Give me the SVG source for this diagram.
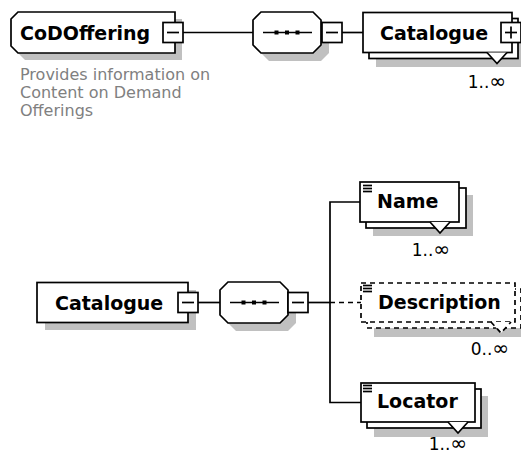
<svg xmlns="http://www.w3.org/2000/svg" width="521" height="456" viewBox="0 0 521 456">
<style>
.bx{fill:#fff;stroke:#000;stroke-width:1.7}
.ds{stroke-dasharray:5,4}
.sh{fill:#c0c0c0;stroke:none}
.ln{fill:none;stroke:#000;stroke-width:1.7}
.lbl{font-family:"DejaVu Sans","Liberation Sans",sans-serif;font-weight:bold;font-size:19px;fill:#000}
.doc{font-family:"DejaVu Sans","Liberation Sans",sans-serif;font-size:16px;fill:#808080}
.mult{font-family:"DejaVu Sans","Liberation Sans",sans-serif;font-size:17px;fill:#000;text-anchor:end}
.inf{font-size:20px}
.dot{fill:#000}
.tri{fill:#fff;stroke:#000;stroke-width:1.7}
</style>
<defs>
<g id="minus"><rect class="bx" x="0" y="0" width="20" height="20"/><line class="ln" x1="4" y1="10" x2="16" y2="10"/></g>
<g id="seqin"><line class="ln" x1="-24" y1="0" x2="25" y2="0"/><rect class="dot" x="-12.5" y="-2" width="4" height="4"/><rect class="dot" x="-2" y="-2" width="4" height="4"/><rect class="dot" x="8.5" y="-2" width="4" height="4"/></g>
<g id="icon"><line class="ln" x1="0" y1="0" x2="9" y2="0"/><line class="ln" x1="0" y1="3" x2="9" y2="3"/><line class="ln" x1="0" y1="6" x2="9" y2="6"/></g>
</defs>

<g id="connectors">
<line class="ln" x1="182" y1="32.5" x2="253" y2="32.5"/>
<line class="ln" x1="342" y1="32.5" x2="363" y2="32.5"/>
<line class="ln" x1="198" y1="302.5" x2="220" y2="302.5"/>
<line class="ln" x1="308" y1="302.5" x2="330" y2="302.5"/>
<polyline class="ln" points="360,202 330,202 330,402.5 361,402.5"/>
<line class="ln ds" x1="330" y1="302.5" x2="361" y2="302.5"/>
</g>

<g id="CoDOffering">
<polygon class="sh" points="18,26 25,19 182,19 182,60 25,60 18,53"/>
<polygon class="bx" points="11,19 18,12 175,12 175,53 18,53 11,46"/>
<use href="#minus" x="163" y="22.5"/>
<text class="lbl" x="20" y="40">CoDOffering</text>
<text class="doc" x="20" y="80">Provides information on</text>
<text class="doc" x="20" y="98">Content on Demand</text>
<text class="doc" x="20" y="116">Offerings</text>
</g>

<g id="sequence1">
<polygon class="sh" points="261,28 269,20 321,20 329,28 329,53 321,61 269,61 261,53"/>
<polygon class="bx" points="253,20 261,12 313,12 321,20 321,45 313,53 261,53 253,45"/>
<use href="#seqin" x="287" y="32.5"/>
<use href="#minus" x="322" y="22.5"/>
</g>

<g id="Catalogue1">
<rect class="sh" x="376" y="26" width="149" height="41"/>
<rect class="bx" x="369" y="18.5" width="149" height="40"/>
<rect class="bx" x="363" y="12.5" width="149" height="40"/>
<path class="tri" d="M487 52.5 L497 63.5 L507 52.5"/>
<rect class="bx" x="501" y="22.5" width="20" height="20"/>
<line class="ln" x1="505" y1="32.5" x2="517" y2="32.5"/>
<line class="ln" x1="511" y1="26.5" x2="511" y2="38.5"/>
<text class="lbl" x="380" y="39.5">Catalogue</text>
<text class="mult" x="506" y="88">1..<tspan class="inf">∞</tspan></text>
</g>

<g id="Catalogue2">
<rect class="sh" x="45" y="290" width="151" height="40"/>
<rect class="bx" x="37" y="282.5" width="151" height="40"/>
<use href="#minus" x="178" y="292.5"/>
<text class="lbl" x="55" y="309.5">Catalogue</text>
</g>

<g id="sequence2">
<polygon class="sh" points="228,298 236,290 288,290 296,298 296,323 288,331 236,331 228,323"/>
<polygon class="bx" points="220,290 228,282 280,282 288,290 288,315 280,323 228,323 220,315"/>
<use href="#seqin" x="254" y="302.5"/>
<use href="#minus" x="288" y="292.5"/>
</g>

<g id="Name">
<rect class="sh" x="373" y="195" width="100" height="41"/>
<rect class="bx" x="366" y="188" width="100" height="40"/>
<rect class="bx" x="360" y="182" width="99" height="40"/>
<path class="tri" d="M430 222 L440 233 L450 222"/>
<use href="#icon" x="363" y="185.5"/>
<text class="lbl" x="377" y="208">Name</text>
<text class="mult" x="450" y="256">1..<tspan class="inf">∞</tspan></text>
</g>

<g id="Description">
<rect class="sh" x="374" y="296" width="154" height="41"/>
<rect class="bx ds" x="367" y="289" width="154" height="39"/>
<rect class="bx ds" x="361" y="283" width="154" height="39"/>
<path class="tri ds" d="M491 322 L501 333 L511 322"/>
<use href="#icon" x="363" y="285.5"/>
<text class="lbl" x="378" y="309">Description</text>
<text class="mult" x="509" y="355">0..<tspan class="inf">∞</tspan></text>
</g>

<g id="Locator">
<rect class="sh" x="374" y="396" width="114" height="41"/>
<rect class="bx" x="367" y="389" width="114" height="39"/>
<rect class="bx" x="361" y="383" width="114" height="39"/>
<path class="tri" d="M448 422 L458 433 L468 422"/>
<use href="#icon" x="363" y="385.5"/>
<text class="lbl" x="377" y="408">Locator</text>
<text class="mult" x="467" y="450">1..<tspan class="inf">∞</tspan></text>
</g>
</svg>
